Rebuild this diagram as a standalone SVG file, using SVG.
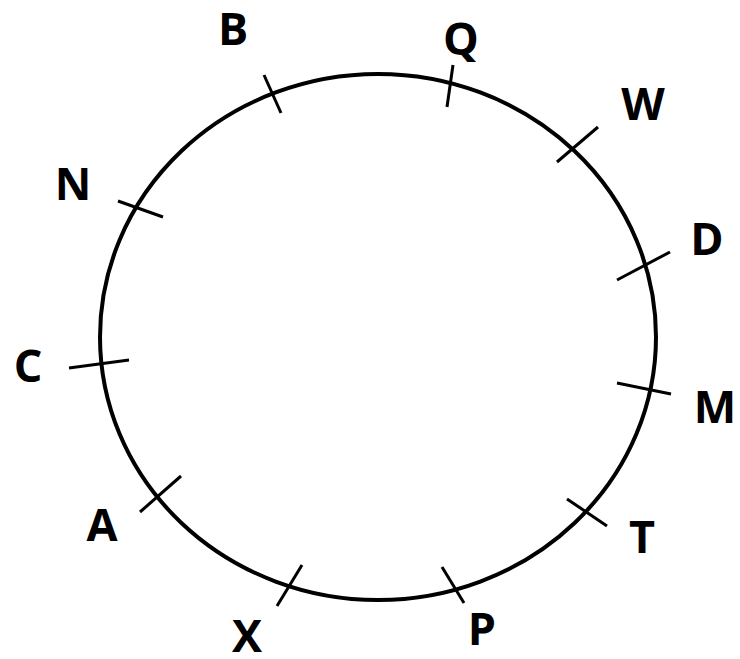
<svg xmlns="http://www.w3.org/2000/svg" width="740" height="659" viewBox="0 0 740 659">
<style>
.lbl{font-family:"Open Sans","Liberation Sans",sans-serif;font-weight:bold;font-size:45px;fill:#000;text-anchor:middle}
.tick{stroke:#000;stroke-width:3;fill:none}
</style>
<rect width="740" height="659" fill="#fff"/>
<g id="circle"><ellipse cx="378" cy="337" rx="278" ry="263" fill="none" stroke="#000" stroke-width="4"/></g>
<g id="connectors">
<line class="tick" x1="264" y1="75" x2="281" y2="113"/>
<line class="tick" x1="453" y1="65" x2="447" y2="107"/>
<line class="tick" x1="598" y1="127" x2="557" y2="162"/>
<line class="tick" x1="670" y1="252" x2="617" y2="280"/>
<line class="tick" x1="617" y1="383" x2="671" y2="394"/>
<line class="tick" x1="567" y1="499" x2="607" y2="526"/>
<line class="tick" x1="442" y1="567" x2="464" y2="603"/>
<line class="tick" x1="302" y1="565" x2="277" y2="606"/>
<line class="tick" x1="181" y1="476" x2="140" y2="512"/>
<line class="tick" x1="69" y1="368" x2="129" y2="360"/>
<line class="tick" x1="118" y1="201" x2="163" y2="217"/>
</g>
<g id="B"><text class="lbl" x="233" y="45">B</text></g>
<g id="Q"><text class="lbl" x="461" y="55">Q</text></g>
<g id="W"><text class="lbl" x="643" y="120">W</text></g>
<g id="D"><text class="lbl" x="707" y="255">D</text></g>
<g id="M"><text class="lbl" x="715" y="423">M</text></g>
<g id="T"><text class="lbl" x="642" y="553">T</text></g>
<g id="P"><text class="lbl" x="482" y="645">P</text></g>
<g id="X"><text class="lbl" x="247" y="652">X</text></g>
<g id="A"><text class="lbl" x="102" y="541">A</text></g>
<g id="C"><text class="lbl" x="28" y="382">C</text></g>
<g id="N"><text class="lbl" x="73" y="200">N</text></g>
</svg>
